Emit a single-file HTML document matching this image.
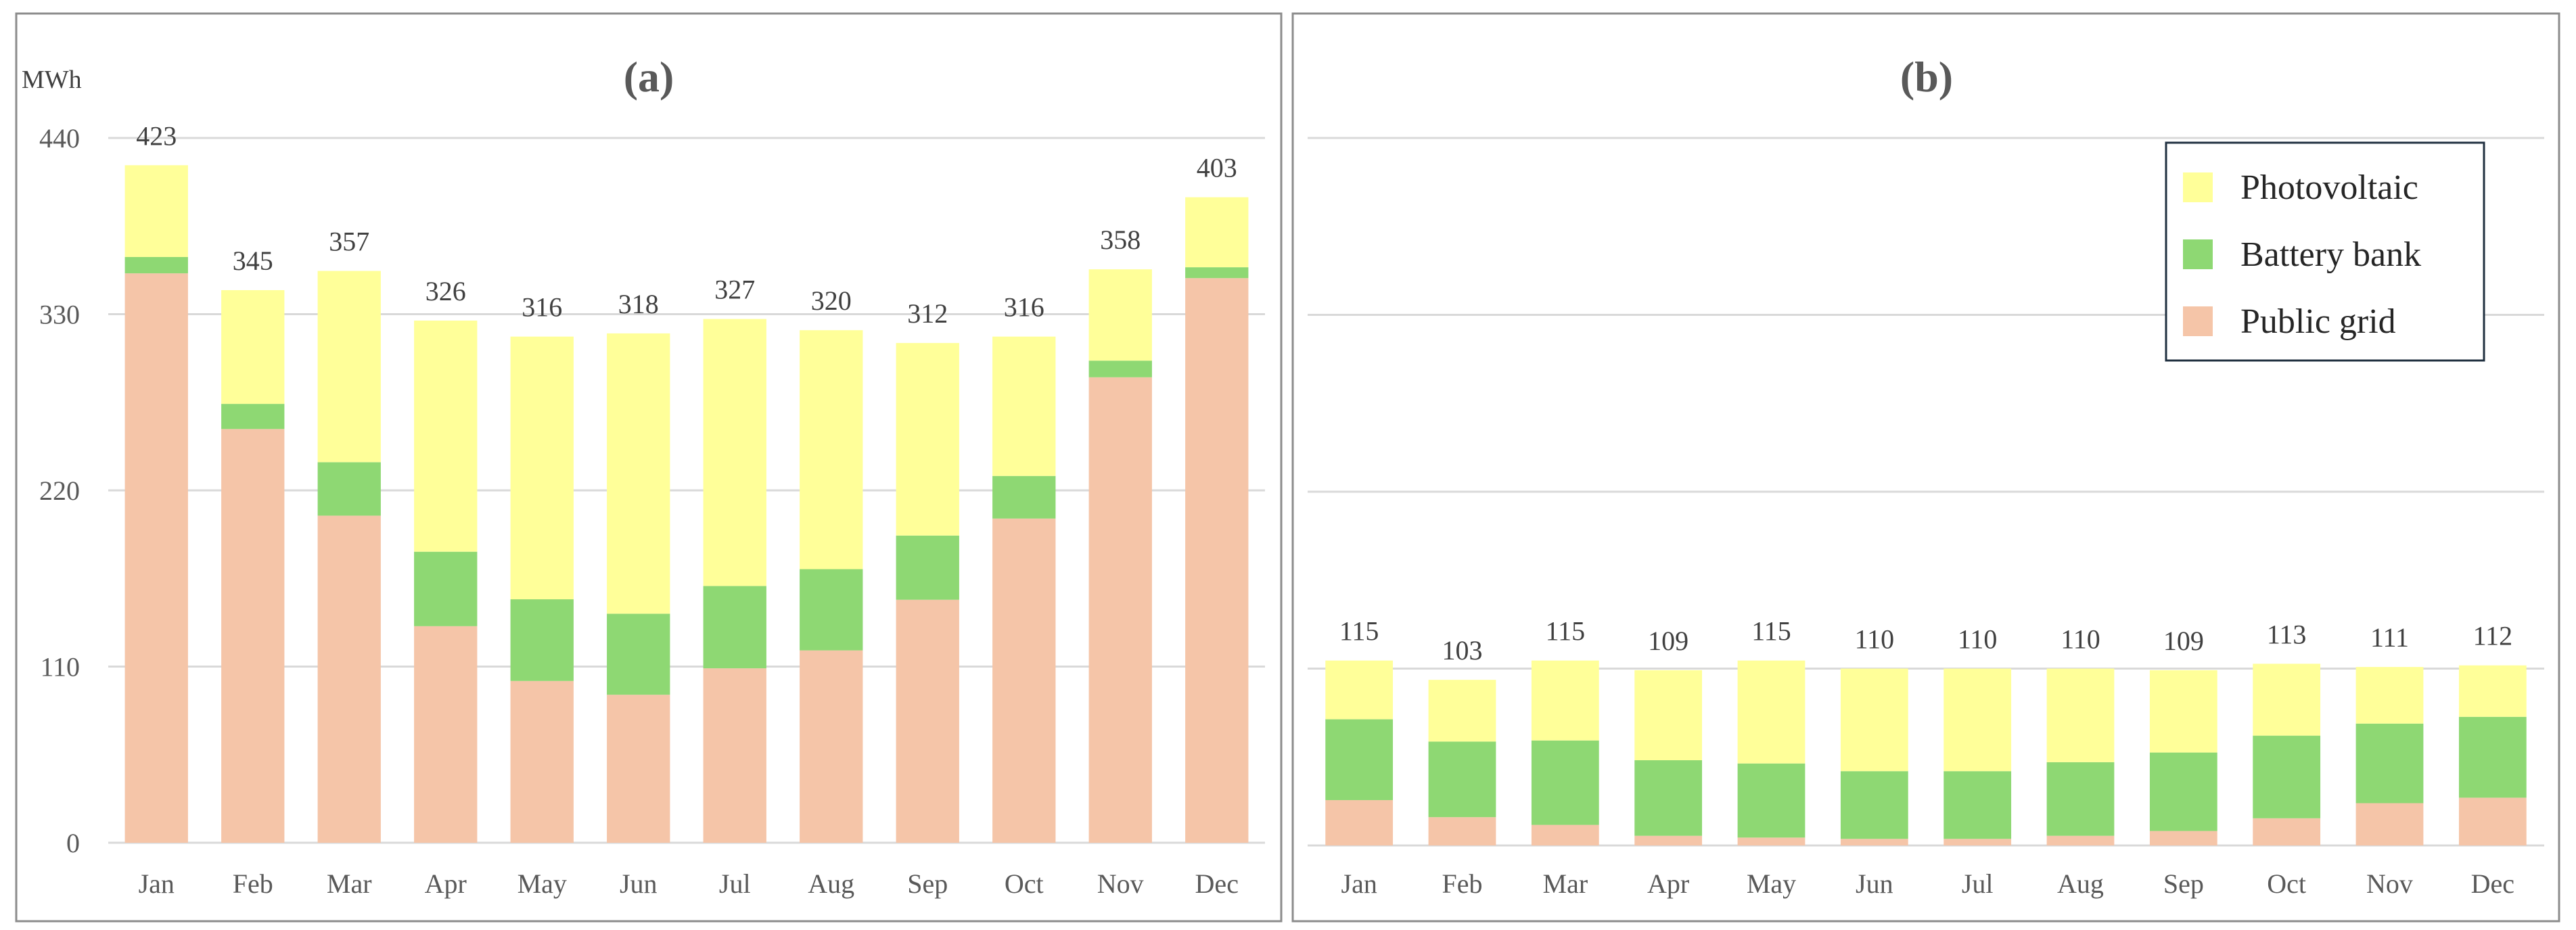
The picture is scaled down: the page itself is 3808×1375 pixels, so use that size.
<!DOCTYPE html>
<html><head><meta charset="utf-8"><style>
html,body{margin:0;padding:0;background:#fff;}
svg{display:block;font-family:"Liberation Serif",serif;}
</style></head><body>
<svg id="chart" width="3808" height="1375" viewBox="0 0 3808 1375" xmlns="http://www.w3.org/2000/svg">
<rect x="24" y="20" width="1870" height="1342" fill="#fff" stroke="#8c8c8c" stroke-width="3"/>
<rect x="1911" y="20" width="1872" height="1342" fill="#fff" stroke="#8c8c8c" stroke-width="3"/>
<text x="959" y="135" text-anchor="middle" font-size="64" font-weight="bold" fill="#595959">(a)</text>
<text x="2848" y="135" text-anchor="middle" font-size="64" font-weight="bold" fill="#595959">(b)</text>
<text x="32" y="130" font-size="38" fill="#404040">MWh</text>
<g id="legend">
<rect x="3202" y="211" width="470" height="322" fill="#fff" stroke="#203040" stroke-width="3"/>
<rect x="3227" y="255" width="44" height="44" fill="#FFFF99"/>
<text x="3312" y="294" font-size="52" fill="#262626">Photovoltaic</text>
<rect x="3227" y="354" width="44" height="44" fill="#8ED873"/>
<text x="3312" y="393" font-size="52" fill="#262626">Battery bank</text>
<rect x="3227" y="453" width="44" height="44" fill="#F5C5A8"/>
<text x="3312" y="492" font-size="52" fill="#262626">Public grid</text>
</g>
</svg>
<script>
const months = ["Jan","Feb","Mar","Apr","May","Jun","Jul","Aug","Sep","Oct","Nov","Dec"];
const yTicks = [0,110,220,330,440];
const aGrid = [355.5,258.3,204.2,135.2,101,92.4,108.9,120.1,151.7,202.4,290.6,352.5];
const aBattery = [10.2,15.7,33.4,46.5,51,50.6,51.4,50.7,40.1,26.6,10.4,6.8];
const aPV = [57.3,71,119.4,144.3,164,175,166.7,149.2,120.2,87,57,43.7];
const aTotals = [423,345,357,326,316,318,327,320,312,316,358,403];
const bGrid = [28.2,17.6,12.8,6,4.9,4.1,4.1,6,9,16.9,26.3,29.7];
const bBattery = [50.3,47,52.5,47,46.1,42.1,42.1,45.8,48.8,51.4,49.5,50.3];
const bPV = [36.5,38.4,49.7,56,64,63.8,63.8,58.2,51.2,44.7,35.2,32];
const bTotals = [115,103,115,109,115,110,110,110,109,113,111,112];

const NS="http://www.w3.org/2000/svg";
const svg=document.getElementById('chart');
const legend=document.getElementById('legend');
function mk(tag,attrs){const e=document.createElementNS(NS,tag);for(const k in attrs)e.setAttribute(k,attrs[k]);svg.insertBefore(e,legend);return e;}

function panel(p,x0,x1,y0,yMax,showY,grid,bat,pv,tot){
  const ptop=204;
  const y=v=>y0-(v/yMax)*(y0-ptop);
  const step=(x1-x0)/months.length;
  const bw=step*0.655;
  yTicks.forEach(t=>{
    const l=mk('line',{x1:x0,x2:x1,y1:y(t),y2:y(t),stroke:'#d9d9d9','stroke-width':3});
    
    
    if(showY){
      const tx=mk('text',{x:118,y:y(t)+14,'text-anchor':'end','font-size':40,fill:'#595959'});
      tx.textContent=t;
      
      
    }
  });
  months.forEach((m,i)=>{
    const cx=x0+step*(i+0.5), bx=cx-bw/2;
    const segs=[[0,grid[i],'#F5C5A8','grid'],[grid[i],grid[i]+bat[i],'#8ED873','battery'],[grid[i]+bat[i],grid[i]+bat[i]+pv[i],'#FFFF99','pv']];
    segs.forEach(s=>{
      const r=mk('rect',{x:bx,width:bw,y:y(s[1]),height:y(s[0])-y(s[1]),fill:s[2]});
      
      
    });
    const lt=mk('text',{x:cx,y:y(grid[i]+bat[i]+pv[i])-30,'text-anchor':'middle','font-size':40,fill:'#404040'});
    lt.textContent=tot[i];
    
    
    const ml=mk('text',{x:cx,y:1320,'text-anchor':'middle','font-size':40,fill:'#595959'});
    ml.textContent=m;
    
    
  });
}
panel('a',160,1870,1246,440,true,aGrid,aBattery,aPV,aTotals);
panel('b',1933,3761,1250,440,false,bGrid,bBattery,bPV,bTotals);
</script>
</body></html>
